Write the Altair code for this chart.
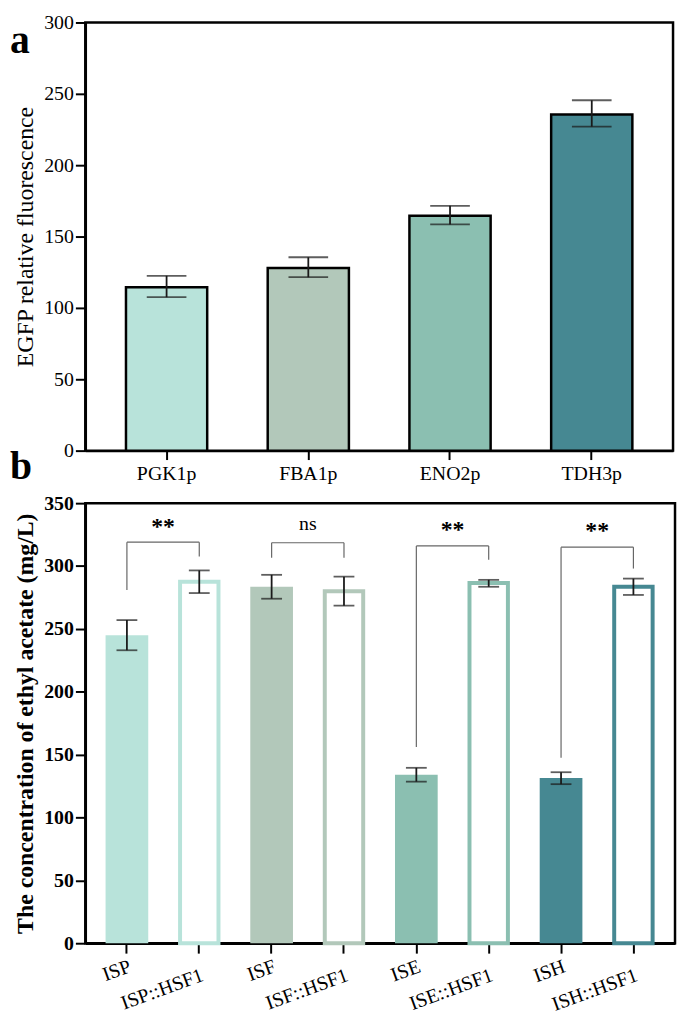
import altair as alt
import pandas as pd

# ---------------- Panel a data ----------------
promoters = ["PGK1p", "FBA1p", "ENO2p", "TDH3p"]
egfp_mean = [114.5, 128.0, 164.5, 235.5]
egfp_low = [107.5, 121.5, 158.5, 227.0]
egfp_high = [122.5, 135.5, 171.5, 245.5]
promoter_colors = ["#b8e3da", "#b2c8ba", "#8bbfb1", "#468892"]

# ---------------- Panel b data ----------------
strains = ["ISP", "ISP::HSF1", "ISF", "ISF::HSF1", "ISE", "ISE::HSF1", "ISH", "ISH::HSF1"]
ea_mean = [245.0, 287.5, 283.5, 280.0, 134.0, 286.5, 131.5, 283.5]
ea_low = [233.0, 278.5, 274.0, 268.5, 128.5, 283.5, 126.5, 277.0]
ea_high = [257.0, 296.5, 293.0, 291.5, 139.5, 289.0, 136.0, 290.0]
strain_colors = ["#b8e3da", "#b8e3da", "#b2c8ba", "#b2c8ba",
                 "#8bbfb1", "#8bbfb1", "#468892", "#468892"]
hollow = [False, True, False, True, False, True, False, True]

sig_left = ["ISP", "ISF", "ISE", "ISH"]
sig_right = ["ISP::HSF1", "ISF::HSF1", "ISE::HSF1", "ISH::HSF1"]
sig_top = [319.0, 318.5, 316.0, 315.0]
sig_left_bottom = [281.0, 306.5, 156.0, 147.5]
sig_right_bottom = [307.5, 306.5, 305.0, 298.0]
sig_text = ["**", "ns", "**", "**"]
sig_text_y = [331.0, 333.0, 328.5, 328.0]

FONT = "Liberation Serif"

# ---------------- Panel a ----------------
df_a = pd.DataFrame({"promoter": promoters, "mean": egfp_mean,
                     "low": egfp_low, "high": egfp_high, "color": promoter_colors})

xa = alt.X("promoter:N", sort=promoters,
           scale=alt.Scale(domain=promoters, paddingInner=0.427, paddingOuter=0.287),
           axis=alt.Axis(title=None, labelAngle=0, labelFontSize=20, labelPadding=4,
                         tickSize=9, labelFont=FONT))
ya_axis = alt.Axis(title="EGFP relative fluorescence", titleFontSize=24,
                   titleFontWeight="normal", titlePadding=6,
                   values=list(range(0, 301, 25)),
                   labelExpr="datum.value % 50 === 0 ? datum.label : ''",
                   tickSize={"condition": {"test": "datum.value % 50 === 0", "value": 10}, "value": 5},
                   labelFontSize=20, labelPadding=2, labelFont=FONT)

bars_a = alt.Chart(df_a).mark_bar(stroke="black", strokeWidth=2.5).encode(
    x=xa,
    y=alt.Y("mean:Q", scale=alt.Scale(domain=[0, 300], nice=False), axis=ya_axis),
    fill=alt.Fill("color:N", scale=None),
)
err_a = alt.Chart(df_a).mark_rule(color="#1a1a1a", strokeWidth=1.8).encode(
    x=alt.X("promoter:N", sort=promoters), y="low:Q", y2="high:Q")
cap_lo_a = alt.Chart(df_a).mark_tick(color="#1a1a1a", thickness=1.8, size=40,
                                     orient="horizontal").encode(
    x=alt.X("promoter:N", sort=promoters), y="low:Q")
cap_hi_a = alt.Chart(df_a).mark_tick(color="#1a1a1a", thickness=1.8, size=40,
                                     orient="horizontal").encode(
    x=alt.X("promoter:N", sort=promoters), y="high:Q")
label_a = alt.Chart(pd.DataFrame({"t": ["a"]})).mark_text(
    font=FONT, fontSize=40, fontWeight="bold", align="left", baseline="alphabetic",
    color="black").encode(text="t:N", x=alt.value(-76), y=alt.value(31))

panel_a = alt.layer(bars_a, err_a, cap_lo_a, cap_hi_a, label_a).properties(
    width=593, height=432)

# ---------------- Panel b ----------------
df_b = pd.DataFrame({"strain": strains, "mean": ea_mean, "low": ea_low,
                     "high": ea_high, "hollow": hollow, "color": strain_colors})

xb = alt.X("strain:N", sort=strains,
           scale=alt.Scale(domain=strains, paddingInner=0.41, paddingOuter=0.28),
           axis=alt.Axis(title=None, labelAngle=-20, labelAlign="right",
                         labelBaseline="top", labelFontSize=20, labelFont=FONT,
                         tickSize=10,
                         labelPadding={"condition": {"test": "indexof(datum.value, 'HSF1') >= 0",
                                                     "value": 12}, "value": 3}))
yb_axis = alt.Axis(title="The concentration of ethyl acetate (mg/L)", titleFontSize=24,
                   titleFontWeight="bold", titlePadding=6,
                   values=list(range(0, 351, 25)),
                   labelExpr="datum.value % 50 === 0 ? datum.label : ''",
                   tickSize={"condition": {"test": "datum.value % 50 === 0", "value": 10}, "value": 5},
                   labelFontSize=20, labelFontWeight="bold", labelPadding=2, labelFont=FONT)
yb = alt.Y("mean:Q", scale=alt.Scale(domain=[0, 350], nice=False), axis=yb_axis)

filled_b = alt.Chart(df_b).transform_filter("!datum.hollow").mark_bar().encode(
    x=xb, y=yb, fill=alt.Fill("color:N", scale=None))
hollow_b = alt.Chart(df_b).transform_filter("datum.hollow").mark_bar(
    fill="white", strokeWidth=4, width=alt.RelativeBandSize(0.9)).encode(
    x=xb, y=yb, stroke=alt.Stroke("color:N", scale=None))
err_b = alt.Chart(df_b).mark_rule(color="#1a1a1a", strokeWidth=1.8).encode(
    x=alt.X("strain:N", sort=strains), y="low:Q", y2="high:Q")
cap_lo_b = alt.Chart(df_b).mark_tick(color="#1a1a1a", thickness=1.8, size=21,
                                     orient="horizontal").encode(
    x=alt.X("strain:N", sort=strains), y="low:Q")
cap_hi_b = alt.Chart(df_b).mark_tick(color="#1a1a1a", thickness=1.8, size=21,
                                     orient="horizontal").encode(
    x=alt.X("strain:N", sort=strains), y="high:Q")

df_sig = pd.DataFrame({"left": sig_left, "right": sig_right, "top": sig_top,
                       "lb": sig_left_bottom, "rb": sig_right_bottom,
                       "text": sig_text, "ty": sig_text_y})
df_legs = pd.DataFrame({"strain": sig_left + sig_right,
                        "top": sig_top + sig_top,
                        "bottom": sig_left_bottom + sig_right_bottom})
bracket_h = alt.Chart(df_sig).mark_rule(color="#666666", strokeWidth=1.2).encode(
    x=alt.X("left:N", sort=strains), x2="right:N", y="top:Q")
bracket_v = alt.Chart(df_legs).mark_rule(color="#666666", strokeWidth=1.2).encode(
    x=alt.X("strain:N", sort=strains), y="top:Q", y2="bottom:Q")
sig_star = alt.Chart(df_sig).transform_filter("datum.text === '**'").mark_text(
    font=FONT, fontSize=24, fontWeight="bold", dx=36.5, baseline="middle",
    color="black").encode(x=alt.X("left:N", sort=strains), y="ty:Q", text="text:N")
sig_ns = alt.Chart(df_sig).transform_filter("datum.text === 'ns'").mark_text(
    font=FONT, fontSize=20, dx=36.5, baseline="middle",
    color="black").encode(x=alt.X("left:N", sort=strains), y="ty:Q", text="text:N")
label_b = alt.Chart(pd.DataFrame({"t": ["b"]})).mark_text(
    font=FONT, fontSize=40, fontWeight="bold", align="left", baseline="alphabetic",
    color="black").encode(text="t:N", x=alt.value(-76), y=alt.value(-24))

panel_b = alt.layer(filled_b, hollow_b, err_b, cap_lo_b, cap_hi_b,
                    bracket_h, bracket_v, sig_star, sig_ns, label_b).properties(
    width=595, height=444)

chart = alt.vconcat(panel_a, panel_b, spacing=53, bounds="flush").properties(
    padding={"left": 0, "top": -2, "right": 0, "bottom": 14}
).configure_view(
    stroke="black", strokeWidth=2.5
).configure_axis(
    domainColor="black", domainWidth=2.5, tickColor="black", tickWidth=2,
    grid=False, labelColor="black", titleColor="black",
    labelFont=FONT, titleFont=FONT
)

chart.save("out.html", embed_options={"renderer": "svg", "actions": False})
